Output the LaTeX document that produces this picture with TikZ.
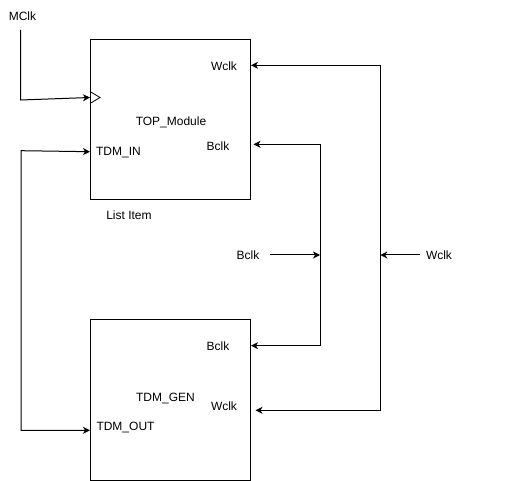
\documentclass[tikz,border=0pt]{standalone}
\usepackage{fontspec}
\setmainfont{Liberation Sans}
\usetikzlibrary{arrows.meta}
\begin{document}
\begin{tikzpicture}[x=1pt,y=-1pt,
  block/.style={draw=black,line width=1pt,minimum width=160pt,minimum height=160pt,inner sep=0pt},
  lbl/.style={anchor=base,inner sep=0pt,font=\fontsize{12}{14}\selectfont},
  wire/.style={draw=black,line width=1pt,-{Stealth[length=7pt,width=7pt,inset=2pt]}},
  bothwire/.style={draw=black,line width=1pt,{Stealth[length=7pt,width=7pt,inset=2pt]}-{Stealth[length=7pt,width=7pt,inset=2pt]}},
  plain/.style={draw=black,line width=1pt}]
\useasboundingbox (0,0) rectangle (520,481);

% module blocks
\node[block] (top) at (170,120) {};
\node[block] (gen) at (170,400) {};

% clock input marker on the top block
\draw[plain,line width=0.8pt] (90,91.5) -- (100,97.5) -- (90,103.5);

% labels
\node[lbl] (mclk) at (22.5,20.5) {MClk};
\node[lbl] (topw) at (224,70.3) {Wclk};
\node[lbl] (topname) at (171,125.5) {TOP\_Module};
\node[lbl] (topb) at (218,150.5) {Bclk};
\node[lbl] (tdmin) at (118.5,155.8) {TDM\_IN};
\node[lbl] (item) at (129,219.5) {List Item};
\node[lbl] (genb) at (218,350.3) {Bclk};
\node[lbl] (genname) at (165.5,401.3) {TDM\_GEN};
\node[lbl] (genw) at (224,410.5) {Wclk};
\node[lbl] (tdmout) at (125.5,430.3) {TDM\_OUT};
\node[lbl] (srcb) at (248,259.5) {Bclk};
\node[lbl] (srcw) at (439,259.5) {Wclk};

% port and routing points
\coordinate (clkport) at (90,97.5);
\coordinate (mclkfrom) at (20.5,30);
\coordinate (mclkbend) at (20.5,100);
\coordinate (inport) at (90,151.7);
\coordinate (outport) at (90,430.3);
\coordinate (loopa) at (21,150.7);
\coordinate (loopb) at (21,430.3);
\coordinate (wtop) at (251,65.3);
\coordinate (wbot) at (255.5,410.3);
\coordinate (wbus) at (380.3,255);
\coordinate (wbusA) at (380.3,65.3);
\coordinate (wbusB) at (380.3,410.3);
\coordinate (btop) at (253.5,144.3);
\coordinate (bbot) at (251,345.7);
\coordinate (bbus) at (320,255);
\coordinate (bbusA) at (320,144.3);
\coordinate (bbusB) at (320,345.7);
\coordinate (bfrom) at (270,255);
\coordinate (wfrom) at (420,255);

% connectors
\draw[wire] (mclkfrom) -- (mclkbend) -- (clkport);
\draw[bothwire] (outport) -- (loopb) -- (loopa) -- (inport);
\draw[bothwire] (wtop) -- (wbusA) -- (wbusB) -- (wbot);
\draw[bothwire] (btop) -- (bbusA) -- (bbusB) -- (bbot);
\draw[wire] (bfrom) -- (bbus);
\draw[wire] (wfrom) -- (wbus);
\end{tikzpicture}
\end{document}
